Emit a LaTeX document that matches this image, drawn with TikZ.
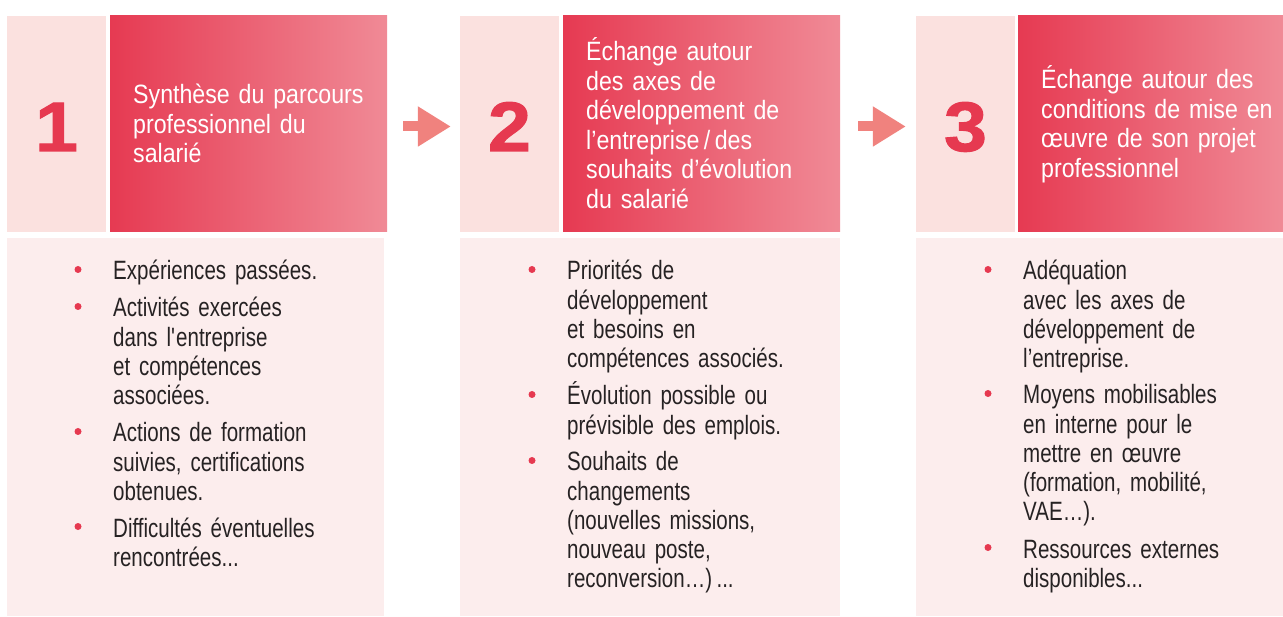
\documentclass[tikz,border=0pt]{standalone}
\usepackage{fontspec}
\setmainfont{Liberation Sans}
\newfontfamily\hdrfont[FakeStretch=0.875]{Liberation Sans}
\newfontfamily\bodyfont[FakeStretch=0.775]{Liberation Sans}
\newfontfamily\numfont[FakeStretch=1.1, FakeBold=1.6]{Liberation Sans}
\newcommand{\hdrsetup}{\hdrfont\fontsize{26.5}{29.5}\selectfont}
\newcommand{\bodysetup}{\bodyfont\fontsize{26.5}{29.2}\selectfont}
\usetikzlibrary{arrows.meta}
\definecolor{numbg}{HTML}{FBE1DF}
\definecolor{bodybg}{HTML}{FCEDED}
\definecolor{hdrL}{HTML}{E63A52}
\definecolor{hdrR}{HTML}{F08A96}
\definecolor{numred}{HTML}{E63950}
\definecolor{arrowc}{HTML}{F0827E}
\definecolor{bodytxt}{HTML}{262223}
\tikzset{
  numbox/.style={fill=numbg, draw=none, inner sep=0pt, minimum width=99pt, minimum height=216pt},
  hdrbox/.style={left color=hdrL, right color=hdrR, draw=none, inner sep=0pt, minimum height=216pt},
  bodybox/.style={fill=bodybg, draw=none, inner sep=0pt, minimum height=378pt},
  numtxt/.style={font=\numfont\bfseries\fontsize{70}{70}\selectfont, text=numred, inner sep=0pt, anchor=base},
  hdrtxt/.style={font=\hdrsetup, text=white, inner sep=0pt, anchor=base west, text width=262pt, align=left},
  itemtxt/.style={font=\bodysetup, text=bodytxt, inner sep=0pt, anchor=base west, text width=250pt, align=left},
  bul/.style={fill=numred},
  flow/.style={draw=arrowc, line width=10pt, -{Triangle[length=33pt, width=38pt]}}
}
\newcommand{\bulletat}[1]{\fill[bul] ([shift={(-35pt,10.5pt)}]#1.base west) circle[radius=3.5pt];}
\begin{document}
\begin{tikzpicture}[x=1pt, y=-1pt]
\useasboundingbox (0,0) rectangle (1283,617);

% column 1
\node[numbox] (num1) at (56.5,124) {};
\node[hdrbox, minimum width=277pt] (hdr1) at (248.5,124) {};
\node[bodybox, minimum width=377pt] (body1) at (195.5,427) {};
\node[numtxt] (n1) at (56.5,151) {1};
\node[hdrtxt] (h1) at (133,104) {Synthèse du parcours\\professionnel du\\salarié};
\node[itemtxt] (i11) at (113,280) {Expériences passées.};
\node[itemtxt] (i12) at (113,317) {Activités exercées\\dans l\textquotesingle entreprise\\et compétences\\associées.};
\node[itemtxt] (i13) at (113,442) {Actions de formation\\suivies, certifications\\obtenues.};
\node[itemtxt] (i14) at (113,537) {Difficultés éventuelles\\rencontrées...};
\bulletat{i11}\bulletat{i12}\bulletat{i13}\bulletat{i14}

% column 2
\node[numbox] (num2) at (509.5,124) {};
\node[hdrbox, minimum width=277pt] (hdr2) at (701.5,124) {};
\node[bodybox, minimum width=380pt] (body2) at (650,427) {};
\node[numtxt] (n2) at (509.5,151) {2};
\node[hdrtxt] (h2) at (586,61) {Échange autour\\des axes de\\développement de\\l’entreprise\,/\,des\\souhaits d’évolution\\du salarié};
\node[itemtxt] (i21) at (567,280) {Priorités de\\développement\\et besoins en\\compétences associés.};
\node[itemtxt] (i22) at (567,405) {Évolution possible ou\\prévisible des emplois.};
\node[itemtxt] (i23) at (567,471) {Souhaits de\\changements\\(nouvelles missions,\\nouveau poste,\\reconversion…)\,...};
\bulletat{i21}\bulletat{i22}\bulletat{i23}

% column 3
\node[numbox] (num3) at (965.5,124) {};
\node[hdrbox, minimum width=265pt] (hdr3) at (1150.5,124) {};
\node[bodybox, minimum width=367pt] (body3) at (1099.5,427) {};
\node[numtxt] (n3) at (965.5,151) {3};
\node[hdrtxt] (h3) at (1041,89) {Échange autour des\\conditions de mise en\\œuvre de son projet\\professionnel};
\node[itemtxt] (i31) at (1023,280) {Adéquation\\avec les axes de\\développement de\\l’entreprise.};
\node[itemtxt] (i32) at (1023,404) {Moyens mobilisables\\en interne pour le\\mettre en œuvre\\(formation, mobilité,\\VAE…).};
\node[itemtxt] (i33) at (1023,558) {Ressources externes\\disponibles...};
\bulletat{i31}\bulletat{i32}\bulletat{i33}

% arrows
\draw[flow] ([xshift=16pt, yshift=-2.5pt]hdr1.east) -- ([xshift=-9pt, yshift=-2.5pt]num2.west);
\draw[flow] ([xshift=18pt, yshift=-2.5pt]hdr2.east) -- ([xshift=-10pt, yshift=-2.5pt]num3.west);
\end{tikzpicture}
\end{document}
